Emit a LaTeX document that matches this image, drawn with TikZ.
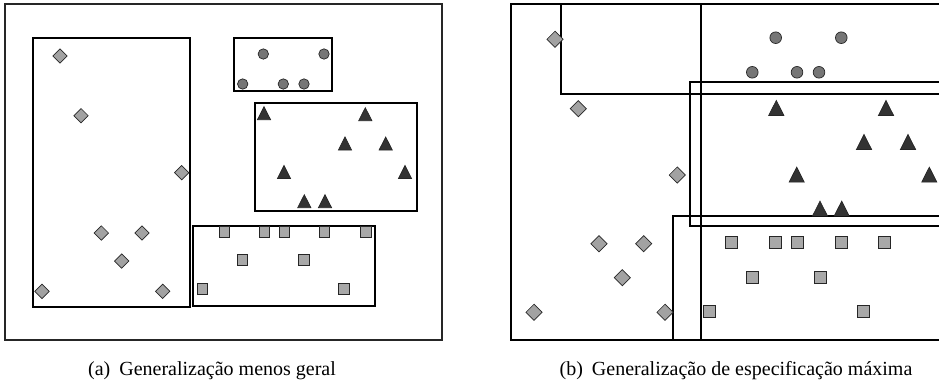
\documentclass[tikz,border=0pt]{standalone}
\usepackage{fontspec}
\setmainfont{Liberation Serif}
\definecolor{diafill}{HTML}{A2A2A2}
\definecolor{sqfill}{HTML}{A8A8A8}
\definecolor{dotfill}{HTML}{767676}
\definecolor{trifill}{HTML}{333333}
\begin{document}
\begin{tikzpicture}[x=1pt,y=-1pt]
\tikzset{
  frame/.style={draw=black!85, line width=1.1pt},
  genbox/.style={draw=black, line width=1.7pt},
  mk/.style={draw=black!85, line width=0.7pt},
  caption/.style={font=\fontsize{20}{24}\selectfont, anchor=base, inner sep=0pt},
  dia/.pic={\path[mk,fill=diafill] (-7.2,0)--(0,-7.2)--(7.2,0)--(0,7.2)--cycle;},
  sq/.pic={\path[mk,fill=sqfill] (-5.3,-5.3) rectangle (5.3,5.3);},
  dot/.pic={\path[mk,fill=dotfill] (0,0) circle (5.2pt);},
  tri/.pic={\path[mk,fill=trifill] (0,-6.8)--(6.6,6.2)--(-6.6,6.2)--cycle;},
}
\useasboundingbox (0,0) rectangle (939,381);
\clip (0,0) rectangle (939,381);

% ---------- (a) least general generalization ----------
\draw[frame] (5,4) rectangle (442,340);
\draw[genbox] (33.3,38.3) rectangle (190,306.7);
\draw[genbox] (234,38.3) rectangle (332.3,91);
\draw[genbox] (255,103.3) rectangle (416.7,211.3);
\draw[genbox] (193.3,225.7) rectangle (374.7,305.7);

\foreach \x/\y in {60/56, 81/115.7, 181.7/172.7, 101.3/233, 142/233, 121.7/261, 42/291.3, 162.7/291.3}
  \pic at (\x,\y) {dia};
\foreach \x/\y in {263.3/54, 324/54, 242.7/84, 283.3/84, 304/84}
  \pic at (\x,\y) {dot};
\foreach \x/\y in {264/113.5, 365.3/114.5, 345/143.8, 385.7/143.8, 284/172.3, 405/172.3, 304.3/201.5, 325/201.5}
  \pic at (\x,\y) {tri};
\foreach \x/\y in {224.3/231.7, 264.3/231.7, 284.3/231.7, 324.3/231.7, 366/231.7, 242.3/260, 304/260, 202.3/289, 344/289}
  \pic at (\x,\y) {sq};

\node[caption] (capA) at (212,375) {(a)\hskip0.45em Generalização menos geral};

% ---------- (b) maximally specific generalization ----------
\draw[frame] (511.3,4) rectangle (960,340);
\draw[genbox] (511.3,4) rectangle (700.7,340);
\draw[genbox] (561.3,4) rectangle (960,94.3);
\draw[genbox] (690,82.3) rectangle (960,225.7);
\draw[genbox] (672.7,216.3) rectangle (960,340);

\foreach \x/\y in {555/39.3, 578.3/108.7, 677.3/175, 599/243.7, 643.7/243.7, 622.3/277.7, 534/312.3, 665/312.3}
  \pic[scale=1.12] at (\x,\y) {dia};
\foreach \x/\y in {775.7/37.7, 841.3/37.7, 752.3/72.3, 797/72.3, 819/72.3}
  \pic[scale=1.12] at (\x,\y) {dot};
\foreach \x/\y in {776.3/108.3, 886/108.3, 864/142.3, 908/142.3, 796.7/175, 929.3/175, 820/209, 841.7/209}
  \pic[scale=1.15] at (\x,\y) {tri};
\foreach \x/\y in {731.3/242.3, 775.7/242.3, 797.3/242.3, 841.3/242.3, 884.7/242.3, 752.7/277.7, 820/277.7, 709/311.7, 863.7/311.7}
  \pic[scale=1.12] at (\x,\y) {sq};

\node[caption] (capB) at (736,375) {(b)\hskip0.45em Generalização de especificação máxima};
\end{tikzpicture}
\end{document}
